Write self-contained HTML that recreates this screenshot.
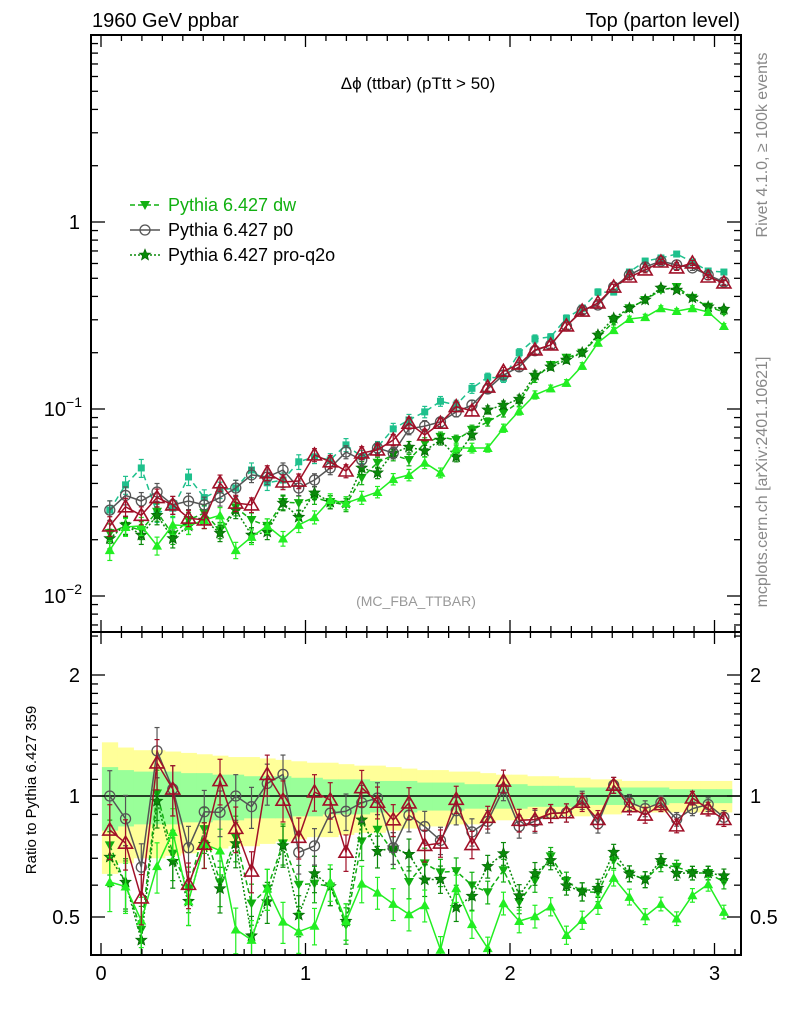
<!DOCTYPE html>
<html><head><meta charset="utf-8"><style>
body{margin:0;background:#fff;}
svg{display:block;font-family:"Liberation Sans",sans-serif;}
</style></head><body>
<svg id="c" width="786" height="1024" viewBox="0 0 786 1024" xmlns="http://www.w3.org/2000/svg"></svg>
<script>
const bins=[0.043,0.120,0.197,0.274,0.351,0.428,0.505,0.582,0.659,0.736,0.813,0.890,0.967,1.044,1.121,1.198,1.275,1.352,1.429,1.506,1.583,1.660,1.737,1.814,1.891,1.968,2.045,2.122,2.199,2.276,2.353,2.430,2.507,2.584,2.661,2.738,2.815,2.892,2.969,3.046];
const ref359=[0.0288,0.0393,0.0484,0.0278,0.0295,0.0433,0.0336,0.0369,0.0378,0.0472,0.0403,0.0417,0.0522,0.0555,0.0534,0.0643,0.0555,0.0626,0.0783,0.0874,0.0965,0.110,0.105,0.129,0.148,0.146,0.200,0.237,0.243,0.306,0.346,0.422,0.422,0.540,0.618,0.642,0.674,0.611,0.547,0.540];
const redTri=[0.0237,0.0300,0.0270,0.0336,0.0307,0.0261,0.0255,0.0403,0.0314,0.0307,0.0456,0.0407,0.0412,0.0568,0.0522,0.0466,0.0582,0.0604,0.0683,0.0840,0.0727,0.0840,0.103,0.0977,0.131,0.159,0.174,0.207,0.220,0.278,0.334,0.369,0.449,0.508,0.554,0.611,0.568,0.604,0.508,0.472];
const p0=[0.0288,0.0345,0.0322,0.0360,0.0307,0.0322,0.0307,0.0336,0.0378,0.0444,0.0433,0.0472,0.0378,0.0417,0.0484,0.0589,0.0534,0.0619,0.0582,0.0783,0.081,0.0853,0.0965,0.105,0.128,0.152,0.168,0.205,0.220,0.278,0.338,0.360,0.449,0.521,0.575,0.618,0.590,0.568,0.521,0.478];
const proq2o=[0.0203,0.0240,0.0212,0.0270,0.0203,0.0237,0.0255,0.0217,0.0288,0.0212,0.0220,0.0314,0.0264,0.0356,0.0318,0.0314,0.0484,0.0456,0.0582,0.0626,0.0597,0.0683,0.0555,0.0727,0.0989,0.105,0.113,0.152,0.168,0.183,0.200,0.249,0.306,0.346,0.383,0.444,0.433,0.393,0.352,0.342];
const dw=[0.0217,0.0237,0.0225,0.0282,0.0212,0.0255,0.0278,0.0225,0.0298,0.0255,0.0237,0.0318,0.0314,0.0336,0.0318,0.0307,0.0428,0.0516,0.0568,0.0534,0.0656,0.0710,0.0683,0.0773,0.0853,0.0954,0.109,0.146,0.172,0.188,0.200,0.243,0.292,0.346,0.383,0.433,0.449,0.393,0.352,0.330];
const brightTri=[0.0176,0.0234,0.0237,0.0186,0.0240,0.0237,0.0255,0.0270,0.0176,0.0207,0.0237,0.0203,0.0240,0.0264,0.0326,0.0314,0.0336,0.0360,0.0422,0.0444,0.0516,0.0456,0.0619,0.0619,0.0619,0.0790,0.0977,0.119,0.129,0.138,0.170,0.226,0.264,0.303,0.310,0.346,0.334,0.346,0.330,0.278];
const relErr=[0.12,0.11,0.11,0.11,0.11,0.10,0.10,0.10,0.10,0.09,0.09,0.09,0.09,0.08,0.08,0.08,0.08,0.07,0.07,0.07,0.07,0.06,0.06,0.06,0.05,0.05,0.05,0.05,0.04,0.04,0.04,0.04,0.035,0.035,0.035,0.03,0.03,0.03,0.03,0.03];
const bandYellow=[0.36,0.32,0.30,0.30,0.29,0.28,0.27,0.26,0.25,0.25,0.24,0.23,0.22,0.21,0.21,0.20,0.19,0.19,0.18,0.17,0.16,0.16,0.15,0.15,0.14,0.13,0.13,0.12,0.12,0.11,0.11,0.10,0.10,0.09,0.09,0.09,0.09,0.09,0.09,0.09];
const bandGreen=[0.18,0.16,0.15,0.15,0.15,0.14,0.14,0.13,0.13,0.12,0.12,0.12,0.11,0.11,0.10,0.10,0.10,0.09,0.09,0.09,0.08,0.08,0.08,0.07,0.07,0.07,0.07,0.06,0.06,0.06,0.05,0.05,0.05,0.05,0.05,0.05,0.04,0.04,0.04,0.04];
const xTicks=[0,1,2,3];

const NS="http://www.w3.org/2000/svg";
const svg=document.getElementById('c');
const L=91,R=741,T=35,MB=632,B=955;
const X=v=>101+v*204.5;
const Y=v=>222-187*Math.log10(v);
const YR=r=>796-121*Math.log2(r);
function el(tag,attrs,parent){const e=document.createElementNS(NS,tag);for(const k in attrs)e.setAttribute(k,attrs[k]);(parent||svg).appendChild(e);return e;}
function txt(s,attrs,parent){const e=el('text',attrs,parent);e.textContent=s;return e;}

const defs=el('defs',{});
const c1=el('clipPath',{id:'cm'},defs);el('rect',{x:L,y:T,width:R-L,height:MB-T},c1);
const c2=el('clipPath',{id:'cr'},defs);el('rect',{x:L,y:MB,width:R-L,height:B-MB},c2);

const gBand=el('g',{'clip-path':'url(#cr)'});


const hw=(bins[1]-bins[0])/2;
bins.forEach((b,i)=>{
  const r1=el('rect',{x:X(b-hw),y:YR(1+bandYellow[i]),width:X(b+hw)-X(b-hw)+0.5,height:YR(1-bandYellow[i])-YR(1+bandYellow[i]),fill:'#ffff99'},gBand);
  
  
});
bins.forEach((b,i)=>{
  const r2=el('rect',{x:X(b-hw),y:YR(1+bandGreen[i]),width:X(b+hw)-X(b-hw)+0.5,height:YR(1-bandGreen[i])-YR(1+bandGreen[i]),fill:'#99ff99'},gBand);
  
  
});
const one=el('line',{x1:L,x2:R,y1:YR(1),y2:YR(1),stroke:'#000','stroke-width':1.5});



function marker(g,type,x,y,col){
  if(type==='sq')el('rect',{x:x-3.5,y:y-3.5,width:7,height:7,fill:col},g);
  else if(type==='tri')el('polygon',{points:`${x},${y-7} ${x-7},${y+5} ${x+7},${y+5}`,fill:'none',stroke:col,'stroke-width':1.6},g);
  else if(type==='circ')el('circle',{cx:x,cy:y,r:5,fill:'none',stroke:col,'stroke-width':1.3},g);
  else if(type==='down')el('polygon',{points:`${x-5},${y-4} ${x+5},${y-4} ${x},${y+5}`,fill:col},g);
  else if(type==='up')el('polygon',{points:`${x-5},${y+4} ${x+5},${y+4} ${x},${y-5}`,fill:col},g);
  else if(type==='star'){let p=[];for(let k=0;k<10;k++){const a=-Math.PI/2+k*Math.PI/5,rr=k%2?2.6:6;p.push((x+rr*Math.cos(a)).toFixed(1)+','+(y+rr*Math.sin(a)).toFixed(1));}
    el('polygon',{points:p.join(' '),fill:col,stroke:'#006000','stroke-width':0.6},g);}
}
const series=[
 {name:'pythia-359',vals:ref359,col:'#1ec08c',m:'sq',dash:'6,4'},
 {name:'pythia-dw',vals:dw,col:'#11b011',m:'down',dash:'5,3'},
 {name:'pythia-pro-q2o',vals:proq2o,col:'#0a8a0a',m:'star',dash:'2,2'},
 {name:'pythia-bright',vals:brightTri,col:'#22ee22',m:'up',dash:''},
 {name:'pythia-p0',vals:p0,col:'#555555',m:'circ',dash:''},
 {name:'pythia-red',vals:redTri,col:'#a01028',m:'tri',dash:''},
];
function drawSeries(s,ratio){
  const g=el('g',{'clip-path':ratio?'url(#cr)':'url(#cm)'});
  
  
  const vals=s.vals.map((v,i)=>ratio?v/ref359[i]:v);
  const F=ratio?YR:Y;
  const pts=vals.map((v,i)=>X(bins[i]).toFixed(1)+','+F(v).toFixed(1)).join(' ');
  const ln=el('polyline',{points:pts,fill:'none',stroke:s.col,'stroke-width':1.5},g);
  if(s.dash)ln.setAttribute('stroke-dasharray',s.dash);
  vals.forEach((v,i)=>{
    const x=X(bins[i]),e=relErr[i]*(ratio?1.3:1);
    el('line',{x1:x,x2:x,y1:F(v*(1+e)),y2:F(v*(1-e)),stroke:s.col,'stroke-width':1.2},g);
    el('line',{x1:x-2.5,x2:x+2.5,y1:F(v*(1+e)),y2:F(v*(1+e)),stroke:s.col,'stroke-width':1.2},g);
    el('line',{x1:x-2.5,x2:x+2.5,y1:F(v*(1-e)),y2:F(v*(1-e)),stroke:s.col,'stroke-width':1.2},g);
    marker(g,s.m,x,F(v),s.col);
  });
}
series.forEach(s=>drawSeries(s,false));
series.forEach(s=>{if(s.name!=='pythia-359')drawSeries(s,true);});

const f1=el('rect',{x:L,y:T,width:R-L,height:MB-T,fill:'none',stroke:'#000','stroke-width':2});


const f2=el('rect',{x:L,y:MB,width:R-L,height:B-MB,fill:'none',stroke:'#000','stroke-width':2});



const gx=el('g',{stroke:'#000','stroke-width':1.3});


for(let v=0;v<=3.15;v+=0.1){const x=X(v);if(x>R)break;const major=Math.abs(v-Math.round(v))<0.01;const len=major?12:6;
  [[T,1],[MB,-1],[MB,1],[B,-1]].forEach(([y0,d])=>el('line',{x1:x,x2:x,y1:y0,y2:y0+d*len},gx));}
xTicks.forEach(v=>{const t=txt(String(v),{x:X(v),y:980,'font-size':20,'text-anchor':'middle'});
  
  });

const gy=el('g',{stroke:'#000','stroke-width':1.3});


for(let e=-3;e<=1;e++)for(let k=1;k<=9;k++){const v=k*Math.pow(10,e);const y=Y(v);if(y<T||y>MB)continue;const len=k===1?14:7;
  el('line',{x1:L,x2:L+len,y1:y,y2:y},gy);el('line',{x1:R,x2:R-len,y1:y,y2:y},gy);}
const yl1=txt('1',{x:80,y:229,'font-size':20,'text-anchor':'end'});


[['−1',Y(0.1)],['−2',Y(0.01)]].forEach(([ex,y])=>{
  const t=el('text',{x:82,y:y+7,'font-size':20,'text-anchor':'end'});
  
  
  t.innerHTML='10<tspan dy="-9" font-size="14">'+ex+'</tspan>';
});
[0.5,0.6,0.7,0.8,0.9,1,1.1,1.2,1.3,1.4,1.5,1.6,1.7,1.8,1.9,2,2.5].forEach(r=>{const y=YR(r);const major=(r===0.5||r===1||r===2);const len=major?14:7;
  el('line',{x1:L,x2:L+len,y1:y,y2:y},gy);el('line',{x1:R,x2:R-len,y1:y,y2:y},gy);});
[['2',2],['1',1],['0.5',0.5]].forEach(([s,r])=>{
  const a=txt(s,{x:80,y:YR(r)+7,'font-size':20,'text-anchor':'end'});
  
  
  const b=txt(s,{x:750,y:YR(r)+7,'font-size':20});
  
  
});

const t1=txt('1960 GeV ppbar',{x:92,y:27,'font-size':20});


const t2=txt('Top (parton level)',{x:740,y:27,'font-size':20,'text-anchor':'end'});


const t3=txt('Δϕ (ttbar) (pTtt > 50)',{x:418,y:89,'font-size':17,'text-anchor':'middle'});


const t4=txt('(MC_FBA_TTBAR)',{x:416,y:606,'font-size':14,'text-anchor':'middle',fill:'#999'});


const t5=txt('Rivet 4.1.0, ≥ 100k events',{x:0,y:0,'font-size':16,fill:'#888','text-anchor':'middle',transform:'translate(767,145) rotate(-90)'});


const t6=txt('mcplots.cern.ch [arXiv:2401.10621]',{x:0,y:0,'font-size':16,fill:'#888','text-anchor':'middle',transform:'translate(767,482) rotate(-90)'});


const t7=txt('Ratio to Pythia 6.427 359',{x:0,y:0,'font-size':15,'text-anchor':'middle',transform:'translate(36,790) rotate(-90)'});



const leg=[['Pythia 6.427 dw','#11b011','down','5,3','#11b011'],['Pythia 6.427 p0','#555555','circ','','#000'],['Pythia 6.427 pro-q2o','#0a8a0a','star','2,2','#000']];
leg.forEach(([s,col,m,dash,tc],i)=>{
  const y=205+i*25;
  const g=el('g',{});
  
  
  const ln=el('line',{x1:130,x2:160,y1:y,y2:y,stroke:col,'stroke-width':1.5},g);
  if(dash)ln.setAttribute('stroke-dasharray',dash);
  marker(g,m,145,y,col);
  txt(s,{x:168,y:y+6,'font-size':18,fill:tc},g);
});
</script>
</body></html>
